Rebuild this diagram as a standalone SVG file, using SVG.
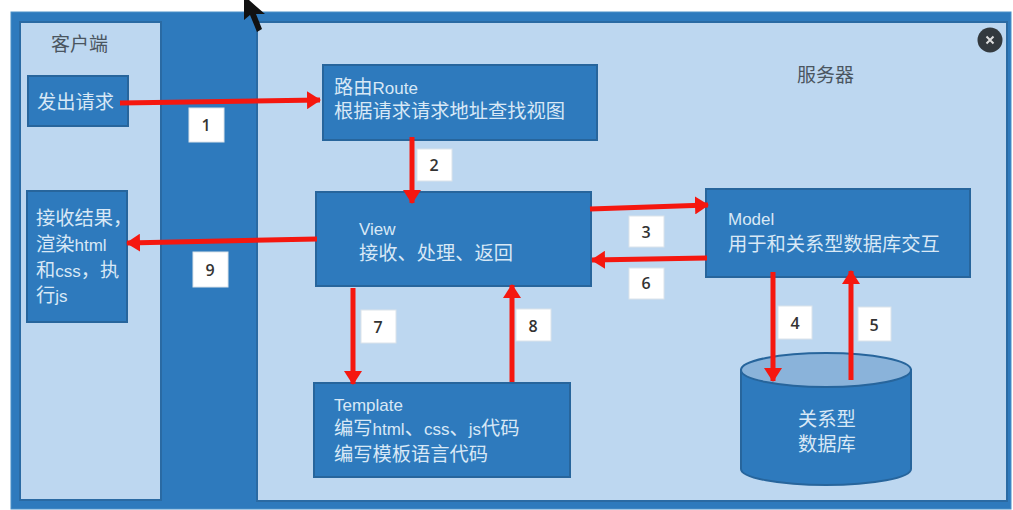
<svg xmlns="http://www.w3.org/2000/svg" width="1013" height="510" viewBox="0 0 1013 510">
<defs><marker id="a" markerUnits="userSpaceOnUse" markerWidth="14" markerHeight="18" refX="13" refY="9" orient="auto"><path d="M0 0L14 9L0 18Z" fill="#f5170f"/></marker></defs>
<style>
.p{fill:#bdd7f0;stroke:#2a6aa3;stroke-width:2}
.n{fill:#2e7abd;stroke:#27659c;stroke-width:2}
.t{font-family:"Liberation Sans","Noto Sans CJK SC",sans-serif;font-size:19.250px;fill:#d8e8f6}
.e{font-size:17px}
.d{font-family:"Noto Sans CJK SC",sans-serif;font-size:19px;fill:#4a5560}
.b{fill:#fff;stroke:#dbe3ea}
.c{fill:none;stroke:#f5170f;stroke-width:5;marker-end:url(#a)}
.m{font-family:"Open Sans",sans-serif;font-weight:600;font-size:16px;fill:#333;text-anchor:middle}
</style>
<rect width="1013" height="510" fill="#fff"/>
<rect x="11" y="12" width="1000" height="497" fill="#2e7abd" stroke="#4a90c8"/>
<g id="client"><rect class="p" x="20" y="22" width="141" height="478"/><text class="d" x="51" y="51">客户端</text></g>
<g id="server"><rect class="p" x="257" y="22" width="750" height="479"/><text class="d" x="797" y="82">服务器</text></g>
<g id="close"><circle cx="990" cy="40" r="12.500" fill="#33393e"/><path d="M986.500 36.500L993.500 43.500M993.500 36.500L986.500 43.500" stroke="#ddd" stroke-width="2"/></g>
<g id="send"><rect class="n" x="28" y="76" width="100" height="50"/><text class="t" x="37" y="109">发出请求</text></g>
<g id="receive"><rect class="n" x="27" y="191" width="100" height="131"/><text class="t" x="36" y="225">接收结果，</text><text class="t" x="36" y="251">渲染<tspan class="e">html</tspan></text><text class="t" x="36" y="277">和<tspan class="e">css</tspan>，执</text><text class="t" x="36" y="302">行<tspan class="e">js</tspan></text></g>
<g id="route"><rect class="n" x="323" y="65" width="274" height="75"/><text class="t" x="334" y="94">路由<tspan class="e">Route</tspan></text><text class="t" x="334" y="118">根据请求请求地址查找视图</text></g>
<g id="view"><rect class="n" x="316" y="192" width="275" height="94"/><text class="t e" x="359" y="235">View</text><text class="t" x="359" y="260">接收、处理、返回</text></g>
<g id="model"><rect class="n" x="706" y="189" width="264" height="88"/><text class="t e" x="728" y="225">Model</text><text class="t" x="728" y="251">用于和关系型数据库交互</text></g>
<g id="template"><rect class="n" x="314" y="383" width="256" height="94"/><text class="t e" x="334" y="411">Template</text><text class="t" x="334" y="435">编写<tspan class="e">html</tspan>、<tspan class="e">css</tspan>、<tspan class="e">js</tspan>代码</text><text class="t" x="334" y="461">编写模板语言代码</text></g>
<g id="database"><path d="M741 370V469A85 16 0 0 0 911 469V370Z" fill="#2e7abd" stroke="#27659c" stroke-width="2"/><ellipse cx="826" cy="370" rx="85" ry="17" fill="#8ab3da" stroke="#27659c" stroke-width="2"/><text class="t" x="798" y="426">关系型</text><text class="t" x="798" y="451">数据库</text></g>
<g id="connectors">
<path class="c" d="M120 103L320 100"/><path class="c" d="M412 137V203"/><path class="c" d="M590 209L708 205"/><path class="c" d="M707 258L592 260"/><path class="c" d="M773 272V381"/><path class="c" d="M851 380V271"/><path class="c" d="M317 239L127 243"/><path class="c" d="M353 288V384"/><path class="c" d="M512 382V285"/>
</g>
<g id="labels">
<rect class="b" x="189" y="108" width="35" height="34"/><text class="m" x="206" y="131">1</text>
<rect class="b" x="417" y="149" width="35" height="32"/><text class="m" x="434" y="171">2</text>
<rect class="b" x="629" y="216" width="35" height="31"/><text class="m" x="646" y="238">3</text>
<rect class="b" x="629" y="268" width="35" height="31"/><text class="m" x="646" y="289">6</text>
<rect class="b" x="778" y="306" width="34" height="33"/><text class="m" x="795" y="329">4</text>
<rect class="b" x="858" y="307" width="33" height="34"/><text class="m" x="874" y="331">5</text>
<rect class="b" x="361" y="310" width="35" height="33"/><text class="m" x="378" y="333">7</text>
<rect class="b" x="516" y="309" width="35" height="32"/><text class="m" x="533" y="332">8</text>
<rect class="b" x="193" y="252" width="35" height="35"/><text class="m" x="210" y="276">9</text>
</g>
<path id="cursor" d="M244 0V20L250 15L257 32L262 29L256 14L265 14L249 0Z" fill="#111"/>
</svg>
